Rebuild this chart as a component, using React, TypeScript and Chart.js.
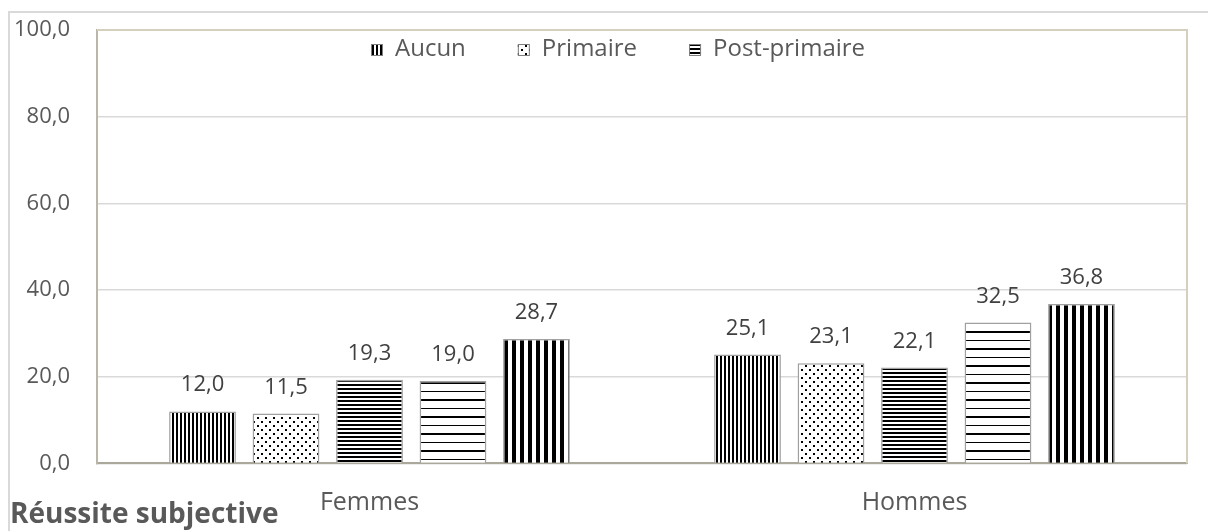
import React, { useEffect, useRef } from 'react';
import { Chart, registerables } from 'chart.js';

Chart.register(...registerables);

const categories = ['Femmes', 'Hommes'];
const seriesLabels = ['Aucun', 'Primaire', 'Post-primaire', 'Série 4', 'Série 5'];
const aucun = [12.0, 25.1];
const primaire = [11.5, 23.1];
const postPrimaire = [19.3, 22.1];
const serie4 = [19.0, 32.5];
const serie5 = [28.7, 36.8];
const legendCount = 3;
const yTicks = [0, 20, 40, 60, 80, 100];
const chartTitle = 'Réussite subjective';

const FONT = "'Open Sans', sans-serif";
const TEXT = '#595959';

function makePattern(kind: string): CanvasPattern {
  const c = document.createElement('canvas');
  const g = c.getContext('2d')!;
  const set = (w: number, h: number) => {
    c.width = w;
    c.height = h;
    g.fillStyle = '#ffffff';
    g.fillRect(0, 0, w, h);
    g.fillStyle = '#000000';
  };
  switch (kind) {
    case 'vDense':
      set(4, 4);
      g.fillRect(0, 0, 2, 4);
      break;
    case 'dots':
      set(8, 8);
      g.fillRect(1, 1, 2, 2);
      g.fillRect(5, 5, 2, 2);
      break;
    case 'hDense':
      set(4, 4);
      g.fillRect(0, 0, 4, 2);
      break;
    case 'hSparse':
      set(4, 17);
      g.fillRect(0, 0, 4, 1);
      g.fillRect(0, 8, 4, 2);
      break;
    default:
      set(8, 8);
      g.fillRect(0, 0, 4, 8);
  }
  return g.createPattern(c, 'repeat')!;
}

const fmt = (v: number) => v.toFixed(1).replace('.', ',');

export default function App() {
  const ref = useRef<HTMLCanvasElement | null>(null);

  useEffect(() => {
    const canvas = ref.current!;
    const patterns = ['vDense', 'dots', 'hDense', 'hSparse', 'vThick'].map(makePattern);
    const values = [aucun, primaire, postPrimaire, serie4, serie5];

    const frame = {
      id: 'frame',
      beforeDraw(chart: any) {
        const { ctx, width, height } = chart;
        ctx.save();
        ctx.fillStyle = '#ffffff';
        ctx.fillRect(0, 0, width, height);
        ctx.strokeStyle = '#d9d9d9';
        ctx.lineWidth = 2;
        ctx.beginPath();
        ctx.moveTo(9, height + 2);
        ctx.lineTo(9, 12);
        ctx.lineTo(width + 2, 12);
        ctx.stroke();
        ctx.restore();
      },
      beforeDatasetsDraw(chart: any) {
        const { ctx, chartArea } = chart;
        ctx.save();
        ctx.strokeStyle = '#d4d0bd';
        ctx.lineWidth = 2;
        ctx.beginPath();
        ctx.moveTo(chartArea.left, chartArea.top);
        ctx.lineTo(chartArea.right, chartArea.top);
        ctx.lineTo(chartArea.right, chartArea.bottom);
        ctx.stroke();
        ctx.restore();
      },
    };

    const dataLabels = {
      id: 'dataLabels',
      afterDatasetsDraw(chart: any) {
        const { ctx } = chart;
        ctx.save();
        ctx.fillStyle = '#404040';
        ctx.font = `22px ${FONT}`;
        ctx.textAlign = 'center';
        ctx.textBaseline = 'alphabetic';
        chart.data.datasets.forEach((ds: any, i: number) => {
          const meta = chart.getDatasetMeta(i);
          meta.data.forEach((el: any, j: number) => {
            ctx.fillText(fmt(ds.data[j]), el.x, el.y - 20);
          });
        });
        ctx.restore();
      },
    };

    const customLegend = {
      id: 'customLegend',
      afterDraw(chart: any) {
        const { ctx, chartArea } = chart;
        ctx.save();
        ctx.font = `24px ${FONT}`;
        ctx.textBaseline = 'alphabetic';
        ctx.textAlign = 'left';
        let x = chartArea.left + 274;
        const baseY = chartArea.top + 26;
        const box = 12;
        for (let i = 0; i < legendCount; i++) {
          const ds = chart.data.datasets[i];
          ctx.fillStyle = ds.backgroundColor;
          ctx.fillRect(x, baseY - box, box, box);
          ctx.strokeStyle = '#7f7f7f';
          ctx.lineWidth = 1;
          ctx.strokeRect(x + 0.5, baseY - box + 0.5, box - 1, box - 1);
          x += box + 12;
          ctx.fillStyle = TEXT;
          ctx.fillText(ds.label, x, baseY);
          x += ctx.measureText(ds.label).width + 52;
        }
        ctx.restore();
      },
    };

    const chart = new Chart(canvas, {
      type: 'bar',
      data: {
        labels: categories,
        datasets: values.map((d, i) => ({
          label: seriesLabels[i],
          data: d,
          backgroundColor: patterns[i] as any,
          borderColor: '#a0a0a0',
          borderWidth: 1.5,
          categoryPercentage: 0.766,
          barPercentage: 0.8,
        })),
      },
      options: {
        responsive: false,
        animation: false,
        devicePixelRatio: 1,
        layout: { padding: { left: 10, right: 21, top: 30, bottom: 0 } },
        plugins: {
          legend: { display: false },
          tooltip: { enabled: false },
          title: {
            display: true,
            text: chartTitle,
            position: 'bottom',
            align: 'start',
            color: TEXT,
            font: { family: FONT, size: 28, weight: 'bold', lineHeight: 0.2 },
            padding: { top: 0, bottom: 13 },
          },
        },
        scales: {
          x: {
            grid: { display: false, drawTicks: false },
            border: { display: true, color: '#aaa79b', width: 2 },
            ticks: { color: TEXT, font: { family: FONT, size: 25 }, padding: 24 },
            afterFit: (s: any) => {
              s.height = 49;
            },
          },
          y: {
            min: 0,
            max: 100,
            grid: { color: '#d9d9d9', lineWidth: 1.5, drawTicks: false },
            border: { display: true, color: '#bbb7a8', width: 2 },
            afterBuildTicks: (s: any) => {
              s.ticks = yTicks.map((v) => ({ value: v }));
            },
            ticks: {
              color: TEXT,
              font: { family: FONT, size: 22 },
              padding: 27,
              callback: (v: any) => fmt(Number(v)),
            },
            afterFit: (s: any) => {
              s.width = 87;
              s.paddingTop = 0;
              s.paddingBottom = 0;
            },
          },
        },
      },
      plugins: [frame, dataLabels, customLegend],
    });

    return () => chart.destroy();
  }, []);

  return (
    <div style={{ position: 'fixed', left: 0, top: 0, width: 1208, height: 531, background: '#fff' }}>
      <canvas ref={ref} width={1208} height={531} style={{ display: 'block' }} />
    </div>
  );
}
